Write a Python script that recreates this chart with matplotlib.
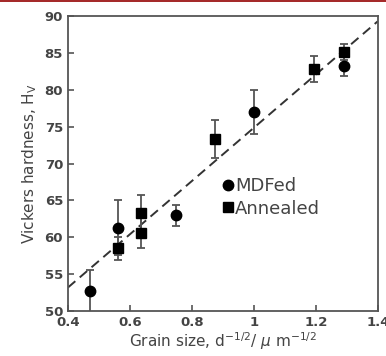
import matplotlib
matplotlib.use("Agg")
import matplotlib.pyplot as plt
from matplotlib.patches import Rectangle

# MDFed samples
mdf_x = [0.47, 0.56, 0.75, 1.00, 1.29]
mdf_y = [52.7, 61.3, 63.0, 77.0, 83.2]
mdf_err = [2.9, 3.7, 1.4, 3.0, 1.3]

# Annealed samples
ann_x = [0.56, 0.635, 0.635, 0.875, 1.195, 1.29]
ann_y = [58.5, 63.3, 60.6, 73.3, 82.8, 85.1]
ann_err = [1.6, 2.4, 2.0, 2.6, 1.8, 1.1]

# Hall-Petch fit line
fit_x = [0.4, 1.4]
fit_y = [53.2, 89.3]

gray = "#555555"
txt = "#444444"

fig = plt.figure(figsize=(3.86, 3.56), dpi=100)
ax = fig.add_axes([0.176, 0.126, 0.803, 0.829])

ax.plot(fit_x, fit_y, linestyle=(0, (5, 3)), color="#333333", linewidth=1.4)

ax.errorbar(mdf_x, mdf_y, yerr=mdf_err, fmt="o", color="black", markersize=7.5,
            ecolor=gray, elinewidth=1.3, capsize=3, capthick=1.3, label="MDFed")
ax.errorbar(ann_x, ann_y, yerr=ann_err, fmt="s", color="black", markersize=7.5,
            ecolor=gray, elinewidth=1.3, capsize=3, capthick=1.3, label="Annealed")

ax.set_xlim(0.4, 1.4)
ax.set_ylim(50, 90)
ax.set_xticks([0.4, 0.6, 0.8, 1.0, 1.2, 1.4])
ax.set_xticklabels(["0.4", "0.6", "0.8", "1", "1.2", "1.4"])
ax.set_yticks(range(50, 91, 5))

for s in ax.spines.values():
    s.set_color(gray)
    s.set_linewidth(1.3)
ax.tick_params(direction="in", length=4, width=1.2, color=gray,
               labelcolor=txt, labelsize=9.5)
for lab in ax.get_xticklabels() + ax.get_yticklabels():
    lab.set_fontweight("bold")

ax.set_xlabel(r"Grain size, d$^{-1/2}$/ $\mu$ m$^{-1/2}$", fontsize=11,
              color=txt, labelpad=1)
ax.set_ylabel(r"Vickers hardness, H$_\mathrm{V}$", fontsize=11, color=txt,
              labelpad=4)

handles, labels = ax.get_legend_handles_labels()
handles = [h[0] for h in handles]
leg = ax.legend(handles, labels, loc="upper left", bbox_to_anchor=(0.47, 0.485),
                frameon=False, fontsize=13, handlelength=0.6,
                handletextpad=0.1, labelspacing=0.25, borderpad=0)
for t in leg.get_texts():
    t.set_color(txt)

# thin red rule at the top of the image
fig.add_artist(Rectangle((0, 0.995), 1, 0.005, transform=fig.transFigure,
                         color="#a52a2a", linewidth=0))

fig.savefig("out.png", dpi=100)
